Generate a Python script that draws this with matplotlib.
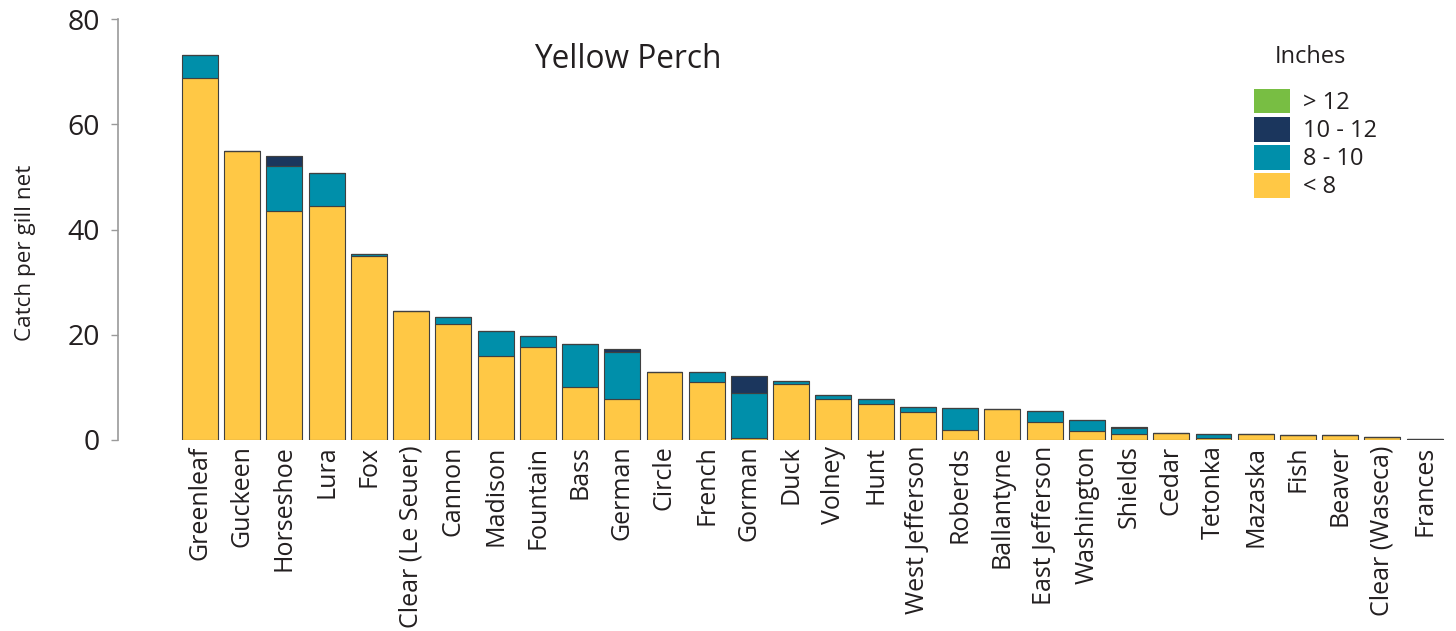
import numpy as np
import matplotlib
matplotlib.use("Agg")
import matplotlib.pyplot as plt

plt.rcParams['font.family'] = ['Open Sans', 'DejaVu Sans']

# Lakes, ordered by total catch
lakes = ["Greenleaf", "Guckeen", "Horseshoe", "Lura", "Fox", "Clear (Le Seuer)",
         "Cannon", "Madison", "Fountain", "Bass", "German", "Circle", "French",
         "Gorman", "Duck", "Volney", "Hunt", "West Jefferson", "Roberds",
         "Ballantyne", "East Jefferson", "Washington", "Shields", "Cedar",
         "Tetonka", "Mazaska", "Fish", "Beaver", "Clear (Waseca)", "Frances"]

# catch per gill net by length class (inches)
under_8 = [68.8, 55.0, 43.5, 44.4, 35.0, 24.6, 22.1, 15.9, 17.7, 10.1,
           7.7, 13.0, 11.1, 0.4, 10.7, 7.7, 6.8, 5.4, 1.9, 5.8,
           3.4, 1.8, 1.2, 1.4, 0.3, 1.1, 1.0, 1.0, 0.5, 0.15]
in_8_10 = [4.4, 0.0, 8.5, 6.3, 0.4, 0.0, 1.2, 4.8, 2.0, 8.1,
           9.1, 0.0, 1.8, 8.6, 0.6, 0.8, 0.9, 0.9, 4.1, 0.0,
           2.2, 2.0, 1.1, 0.0, 0.9, 0.0, 0.0, 0.0, 0.0, 0.0]
in_10_12 = [0.0, 0.0, 1.9, 0.0, 0.0, 0.0, 0.0, 0.0, 0.0, 0.0,
            0.4, 0.0, 0.0, 3.1, 0.0, 0.0, 0.0, 0.0, 0.0, 0.0,
            0.0, 0.0, 0.2, 0.0, 0.0, 0.0, 0.0, 0.0, 0.0, 0.0]
over_12 = [0.0] * len(lakes)

series = [("< 8", under_8, "#FFC845"),
          ("8 - 10", in_8_10, "#008FAA"),
          ("10 - 12", in_10_12, "#1B365D"),
          ("> 12", over_12, "#78BE43")]

text_color = "#231F20"

fig = plt.figure(figsize=(14.56, 6.31), dpi=100)
ax = fig.add_axes([118 / 1456, 1 - 440 / 631, (1450 - 118) / 1456, 421 / 631])

x = np.arange(len(lakes))
bottom = np.zeros(len(lakes))
handles = []
for label, vals, color in series:
    vals = np.array(vals)
    bars = ax.bar(x, vals, width=0.85, bottom=bottom, color=color,
                  edgecolor="#404040", linewidth=0.8, label=label)
    handles.append(bars)
    bottom += vals

ax.set_xlim(-1.94, 29.6)
ax.set_ylim(0, 80)
ax.set_yticks([0, 20, 40, 60, 80])
ax.set_xticks(x)
ax.set_xticklabels(lakes, rotation=90, fontsize=18, color=text_color)
ax.tick_params(axis="x", length=0, pad=4)
ax.tick_params(axis="y", length=5, width=1, color="#9a9a9a", pad=8,
               labelsize=20.5, labelcolor=text_color)

for side in ["top", "right", "bottom"]:
    ax.spines[side].set_visible(False)
ax.spines["left"].set_color("#9a9a9a")
ax.spines["left"].set_linewidth(1.2)

fig.text(25 / 1456, 1 - 253 / 631, "Catch per gill net", rotation=90,
         ha="center", va="center", fontsize=16.2, color=text_color)
fig.text(628 / 1456, 1 - 60 / 631, "Yellow Perch", ha="center", va="center",
         fontsize=22.8, color=text_color)

# legend, with its title as separate text
fig.text(1310 / 1456, 1 - 57 / 631, "Inches", ha="center", va="center",
         fontsize=17, color=text_color)
leg = ax.legend(handles=handles[::-1], labels=[s[0] for s in series][::-1],
                frameon=False, fontsize=17,
                loc="upper left", bbox_to_anchor=(1237 / 1456, 1 - 72 / 631),
                bbox_transform=fig.transFigure,
                handlelength=1.53, handleheight=1.25, labelspacing=0.07,
                handletextpad=0.55, borderpad=0.2)
for t in leg.get_texts():
    t.set_color(text_color)
for h in leg.legend_handles:
    h.set_edgecolor("none")

fig.savefig("out.png", dpi=100)
